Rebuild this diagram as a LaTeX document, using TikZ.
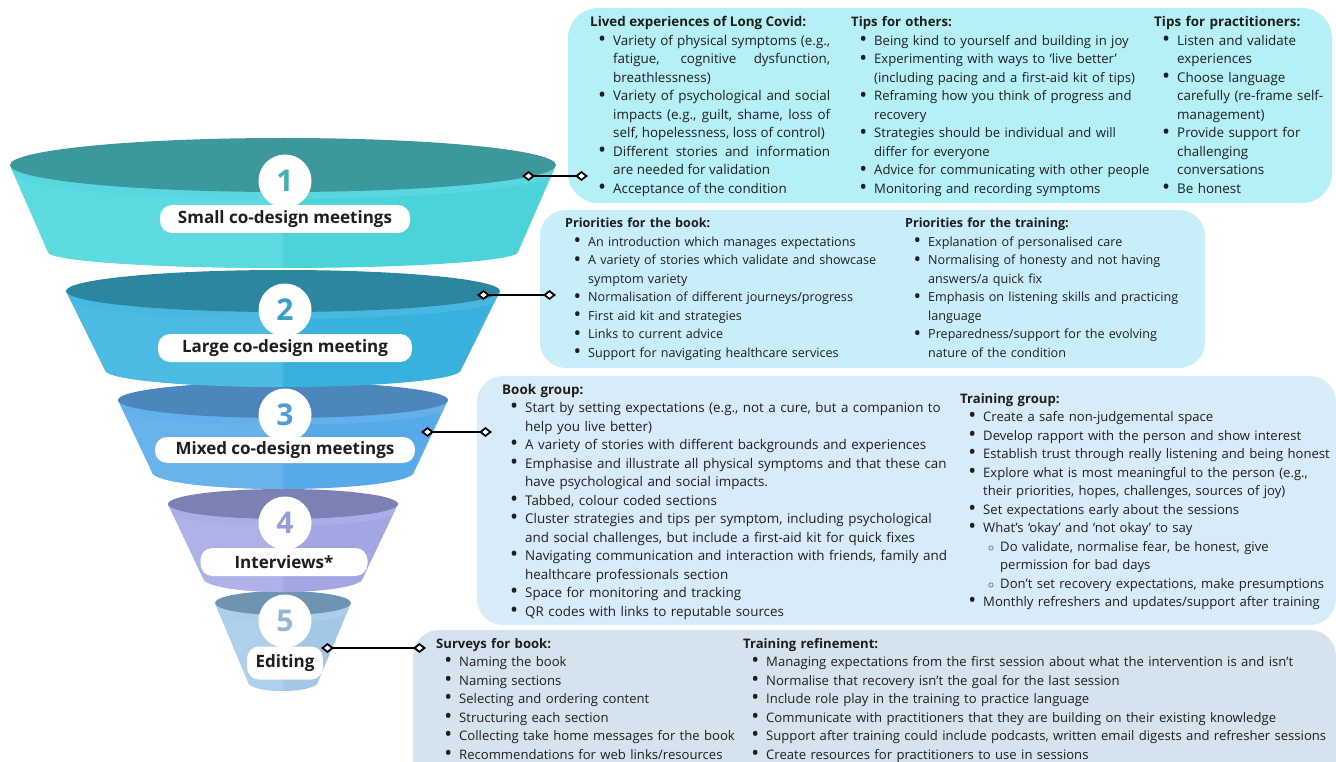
\documentclass[tikz,border=0pt]{standalone}
\usepackage{fontspec}
\setmainfont{Open Sans}
\usepackage{enumitem}
\usetikzlibrary{arrows.meta}

\definecolor{l1top}{HTML}{3C989D}
\definecolor{l1body}{HTML}{4CD3DA}
\definecolor{l1side}{HTML}{5DDAE0}
\definecolor{l1rim}{HTML}{58D7DE}
\definecolor{l2top}{HTML}{2D86A0}
\definecolor{l2body}{HTML}{39B1DD}
\definecolor{l2side}{HTML}{4CBBE3}
\definecolor{l2rim}{HTML}{46B8E1}
\definecolor{l3top}{HTML}{4C86BD}
\definecolor{l3body}{HTML}{58A9E7}
\definecolor{l3side}{HTML}{68B3EB}
\definecolor{l3rim}{HTML}{63B0EA}
\definecolor{l4top}{HTML}{7B81B3}
\definecolor{l4body}{HTML}{A2A6E3}
\definecolor{l4side}{HTML}{AEB2E8}
\definecolor{l4rim}{HTML}{AAAEE7}
\definecolor{l5top}{HTML}{6F93B2}
\definecolor{l5body}{HTML}{A3C8E7}
\definecolor{l5side}{HTML}{AFD0EC}
\definecolor{l5rim}{HTML}{ACCEEB}
\definecolor{boxa}{HTML}{B4F0F6}
\definecolor{boxb}{HTML}{C8EEFA}
\definecolor{boxc}{HTML}{D8EBF9}
\definecolor{boxd}{HTML}{D5E3EE}
\definecolor{ink}{HTML}{1E1E1E}

\setlist[itemize]{label=\smash{\raisebox{-1.3pt}{\scalebox{1.6}{\textbullet}}}, leftmargin=23pt, labelsep=7pt, itemsep=0pt, parsep=0pt, topsep=0pt, partopsep=0pt}
\setlist[itemize,2]{label=$\circ$, leftmargin=17pt, labelsep=6pt}

\begin{document}
\begin{tikzpicture}[x=1pt, y=-1pt,
  stagenum/.style={circle, fill=white, minimum size=53pt, inner sep=0pt, font=\bfseries\fontsize{30}{30}\selectfont},
  stagelabel/.style={fill=white, rounded corners=12pt, minimum height=28pt, inner sep=0pt, text=ink, font=\bfseries\fontsize{17}{20}\selectfont},
  infotext/.style={anchor=base west, inner sep=0pt, align=left, text=ink, font=\fontsize{13.4}{18.5}\selectfont},
  joint/.style={line width=2.5pt, {Diamond[fill=white, length=13pt, width=10pt, line width=1.8pt]}-{Diamond[fill=white, length=13pt, width=10pt, line width=1.8pt]}}]
\useasboundingbox (0,0) rectangle (1336,762);

% boxes
\fill[boxa, rounded corners=30pt] (568,8) rectangle (1332,203);
\fill[boxb, rounded corners=26pt] (540,210) rectangle (1205,368);
\fill[boxc, rounded corners=26pt] (477,376) rectangle (1336,625);
\fill[boxd, rounded corners=26pt] (413,630) rectangle (1336,790);

% funnel, bottom layer first
\foreach \i/\cy/\rx/\ry/\by/\brx/\bry in {5/603/68/12/682/35/9, 4/504/115/15/578/80/14, 3/400/165/18/472/131/17, 2/291/217/21/370/178/17, 1/165/273/27/252/235/16}{
  \fill[l\i body] (283-\rx,\cy) -- (283-\brx,\by) arc[start angle=180, end angle=360, x radius=\brx pt, y radius=\bry pt] -- (283+\rx,\cy) -- cycle;
  \fill[l\i side] (283,\cy) -- (283-\rx,\cy) -- (283-\brx,\by) arc[start angle=180, end angle=270, x radius=\brx pt, y radius=\bry pt] -- cycle;
  \begin{scope}
    \clip (283-\rx,\cy) -- (283-\brx,\by) arc[start angle=180, end angle=360, x radius=\brx pt, y radius=\bry pt] -- (283+\rx,\cy) -- cycle;
    \fill[l\i rim] (283,\cy+7) ellipse[x radius=\rx pt, y radius=\ry pt];
  \end{scope}
  \fill[l\i top] (283,\cy) ellipse[x radius=\rx pt, y radius=\ry pt];
}

% stages
\node[stagenum, text=l1top!60!l1body] (n1) at (285,181) {1};
\node[stagenum, text=l2top!40!l2body] (n2) at (285,310) {2};
\node[stagenum, text=l3top!40!l3body] (n3) at (285,415) {3};
\node[stagenum, text=l4top!25!l4body] (n4) at (285,523) {4};
\node[stagenum, text=l5top!30!l5body] (n5) at (285,621) {5};
\node[stagelabel, minimum width=250pt] (s1) at (285,219) {Small co-design meetings};
\node[stagelabel, minimum width=254pt] (s2) at (285,348) {Large co-design meeting};
\node[stagelabel, minimum width=260pt, minimum height=26pt] (s3) at (285,450) {Mixed co-design meetings};
\node[stagelabel, minimum width=167pt] (s4) at (284,562) {Interviews*};
\node[stagelabel, minimum width=76pt, minimum height=33pt] (s5) at (285,663) {Editing};

% joints
\coordinate (j1a) at (522,176);
\coordinate (j1b) at (588,176);
\coordinate (j2a) at (477,295);
\coordinate (j2b) at (556,295);
\coordinate (j3a) at (421,432);
\coordinate (j3b) at (492,432);
\coordinate (j5a) at (321,648);
\coordinate (j5b) at (426,648);
\draw[joint] (j1a) -- (j1b);
\draw[joint] (j2a) -- (j2b);
\draw[joint] (j3a) -- (j3b);
\draw[joint] (j5a) -- (j5b);

% box 1
\node[infotext, text width=240pt, align=justify] (lived) at (590,27) {\textbf{Lived experiences of Long Covid:}
\begin{itemize}
\item Variety of physical symptoms (e.g.,\linebreak fatigue, cognitive dysfunction,\linebreak breathlessness)
\item Variety of psychological and social\linebreak impacts (e.g., guilt, shame, loss of\linebreak self, hopelessness, loss of control)
\item Different stories and information\linebreak are needed for validation
\item Acceptance of the condition
\end{itemize}};
\node[infotext, text width=302pt, font=\fontsize{13.1}{18.5}\selectfont] (others) at (851,27) {\textbf{Tips for others:}
\begin{itemize}
\item Being kind to yourself and building in joy
\item Experimenting with ways to ‘live better’\newline (including pacing and a first-aid kit of tips)
\item Reframing how you think of progress and\newline recovery
\item Strategies should be individual and will\newline differ for everyone
\item Advice for communicating with other people
\item Monitoring and recording symptoms
\end{itemize}};
\node[infotext, text width=178pt] (practs) at (1154,27) {\textbf{Tips for practitioners:}
\begin{itemize}
\item Listen and validate\newline experiences
\item Choose language\newline carefully (re-frame self-\newline management)
\item Provide support for\newline challenging\newline conversations
\item Be honest
\end{itemize}};

% box 2
\node[infotext, text width=330pt, font=\fontsize{12.6}{18.5}\selectfont] (bookprio) at (565,228) {\textbf{Priorities for the book:}
\begin{itemize}
\item An introduction which manages expectations
\item A variety of stories which validate and showcase\newline symptom variety
\item Normalisation of different journeys/progress
\item First aid kit and strategies
\item Links to current advice
\item Support for navigating healthcare services
\end{itemize}};
\node[infotext, text width=295pt, font=\fontsize{12.6}{18.5}\selectfont] (trainprio) at (905,228) {\textbf{Priorities for the training:}
\begin{itemize}
\item Explanation of personalised care
\item Normalising of honesty and not having\newline answers/a quick fix
\item Emphasis on listening skills and practicing\newline language
\item Preparedness/support for the evolving\newline nature of the condition
\end{itemize}};

% box 3
\node[infotext, text width=452pt] (bookgrp) at (502,394) {\textbf{Book group:}
\begin{itemize}
\item Start by setting expectations (e.g., not a cure, but a companion to\newline help you live better)
\item A variety of stories with different backgrounds and experiences
\item Emphasise and illustrate all physical symptoms and that these can\newline have psychological and social impacts.
\item Tabbed, colour coded sections
\item Cluster strategies and tips per symptom, including psychological\newline and social challenges, but include a first-aid kit for quick fixes
\item Navigating communication and interaction with friends, family and\newline healthcare professionals section
\item Space for monitoring and tracking
\item QR codes with links to reputable sources
\end{itemize}};
\node[infotext, text width=376pt, font=\fontsize{13.1}{18.5}\selectfont] (traingrp) at (960,403) {\textbf{Training group:}
\begin{itemize}
\item Create a safe non-judgemental space
\item Develop rapport with the person and show interest
\item Establish trust through really listening and being honest
\item Explore what is most meaningful to the person (e.g.,\newline their priorities, hopes, challenges, sources of joy)
\item Set expectations early about the sessions
\item What’s ‘okay’ and ‘not okay’ to say
  \begin{itemize}
  \item Do validate, normalise fear, be honest, give\newline permission for bad days
  \item Don’t set recovery expectations, make presumptions
  \end{itemize}
\item Monthly refreshers and updates/support after training
\end{itemize}};

% box 4
\node[infotext, text width=302pt, font=\fontsize{13.1}{18.5}\selectfont] (surveys) at (436,648) {\textbf{Surveys for book:}
\begin{itemize}
\item Naming the book
\item Naming sections
\item Selecting and ordering content
\item Structuring each section
\item Collecting take home messages for the book
\item Recommendations for web links/resources
\end{itemize}};
\node[infotext, text width=590pt, font=\fontsize{13.1}{18.5}\selectfont] (refine) at (743,648) {\textbf{Training refinement:}
\begin{itemize}
\item Managing expectations from the first session about what the intervention is and isn’t
\item Normalise that recovery isn’t the goal for the last session
\item Include role play in the training to practice language
\item Communicate with practitioners that they are building on their existing knowledge
\item Support after training could include podcasts, written email digests and refresher sessions
\item Create resources for practitioners to use in sessions
\end{itemize}};
\end{tikzpicture}
\end{document}
